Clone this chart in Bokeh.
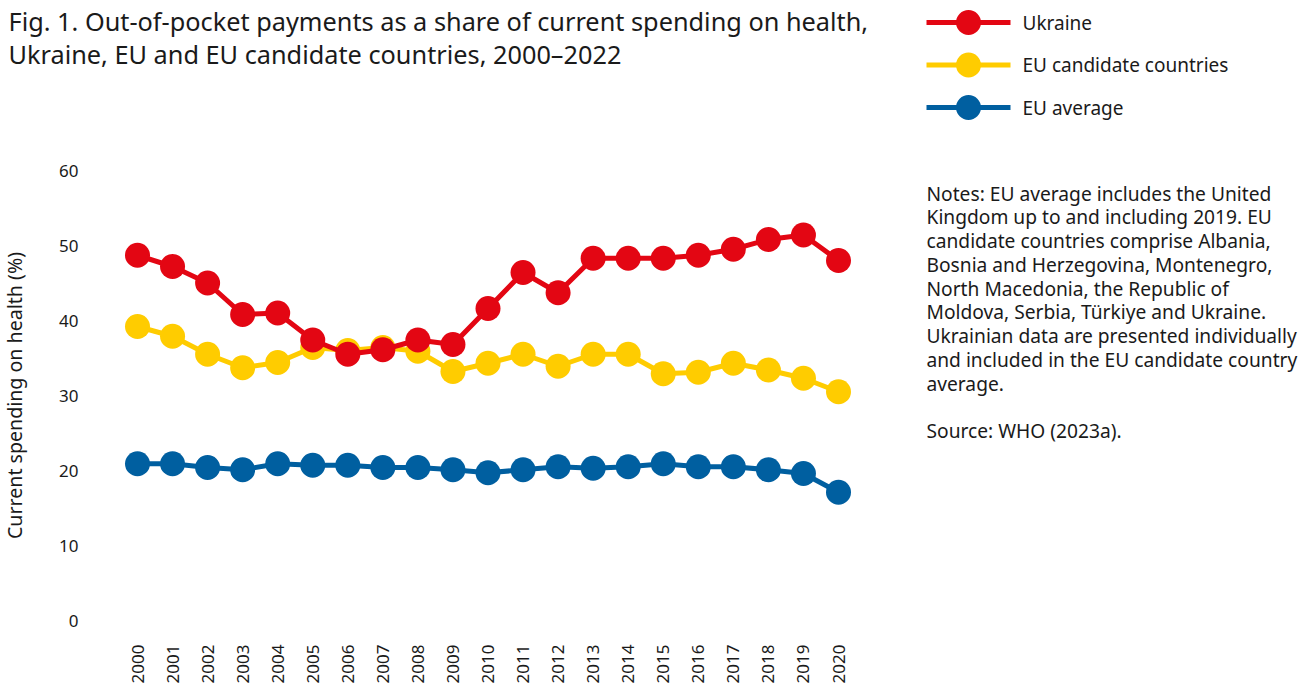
import math
from bokeh.plotting import figure
from bokeh.models import ColumnDataSource, FixedTicker, Range1d
from bokeh.core.properties import value
from bokeh.embed import file_html
from bokeh.resources import INLINE

years = list(range(2000, 2021))
ukraine = [48.7, 47.2, 45.0, 40.8, 41.0, 37.4, 35.5, 36.1, 37.4, 36.8, 41.6,
           46.4, 43.7, 48.3, 48.3, 48.3, 48.7, 49.5, 50.8, 51.4, 48.0]
candidates = [39.2, 37.9, 35.5, 33.7, 34.4, 36.4, 36.0, 36.4, 35.9, 33.2, 34.3,
              35.5, 33.9, 35.5, 35.5, 32.9, 33.1, 34.3, 33.4, 32.3, 30.5]
eu_avg = [20.9, 20.9, 20.4, 20.1, 20.9, 20.7, 20.7, 20.4, 20.4, 20.1, 19.7,
          20.1, 20.5, 20.3, 20.5, 20.9, 20.5, 20.5, 20.1, 19.6, 17.1]
y_ticks = [0, 10, 20, 30, 40, 50, 60]

series_names = ["Ukraine", "EU candidate countries", "EU average"]
title_lines = ["Fig. 1. Out-of-pocket payments as a share of current spending on health,",
               "Ukraine, EU and EU candidate countries, 2000\u20132022"]
y_label = "Current spending on health (%)"
notes_lines = ["Notes: EU average includes the United",
               "Kingdom up to and including 2019. EU",
               "candidate countries comprise Albania,",
               "Bosnia and Herzegovina, Montenegro,",
               "North Macedonia, the Republic of",
               "Moldova, Serbia, T\u00fcrkiye and Ukraine.",
               "Ukrainian data are presented individually",
               "and included in the EU candidate country",
               "average.",
               "",
               "Source: WHO (2023a)."]

RED = "#E30613"
YELLOW = "#FFCC00"
BLUE = "#005FA0"
COLORS = [RED, YELLOW, BLUE]
TXT = "#1a1a1a"
FONT = "Noto Sans"

W, H = 1312, 688
X_PX = 35.05               # pixels per year
Y_PX = 7.5                 # pixels per percentage point
X0_PX, Y0_PX = 137, 620    # canvas position of year 2000 / value 0
AXIS_LEFT_PX, AXIS_BOTTOM_PX = 116, 626

x_start = 2000 - X0_PX / X_PX
y_end = Y0_PX / Y_PX

src = ColumnDataSource(dict(year=years, ukr=ukraine, cand=candidates, eu=eu_avg))
p = figure(width=W, height=H, output_backend="svg", toolbar_location=None,
           x_range=Range1d(x_start, x_start + W / X_PX),
           y_range=Range1d(y_end - H / Y_PX, y_end),
           min_border=0, min_border_left=0, min_border_right=0,
           min_border_top=0, min_border_bottom=0)
p.outline_line_color = None
p.xgrid.visible = False
p.ygrid.visible = False
p.extra_x_ranges = {"px": Range1d(0, W)}
p.extra_y_ranges = {"px": Range1d(H, 0)}

for ax in (p.xaxis[0], p.yaxis[0]):
    ax.axis_line_color = None
    ax.major_tick_line_color = None
    ax.minor_tick_line_color = None
    ax.major_tick_out = 0
    ax.major_tick_in = 0
    ax.minor_tick_out = 0
    ax.major_label_text_font = FONT
    ax.major_label_text_font_size = "17px"
    ax.major_label_text_color = TXT

p.xaxis.ticker = FixedTicker(ticks=years)
p.xaxis.bounds = (years[0], years[-1])
p.xaxis.fixed_location = (Y0_PX - AXIS_BOTTOM_PX) / Y_PX
p.xaxis.major_label_orientation = math.pi / 2
p.xaxis.major_label_standoff = 18

p.yaxis.ticker = FixedTicker(ticks=y_ticks)
p.yaxis.bounds = (y_ticks[0], y_ticks[-1])
p.yaxis.fixed_location = x_start + AXIS_LEFT_PX / X_PX
p.yaxis.major_label_standoff = 38
p.yaxis.axis_label = y_label
p.yaxis.axis_label_text_font = FONT
p.yaxis.axis_label_text_font_size = "19.6px"
p.yaxis.axis_label_text_font_style = "normal"
p.yaxis.axis_label_text_color = TXT
p.yaxis.axis_label_standoff = 28

for key, col in (("eu", BLUE), ("cand", YELLOW), ("ukr", RED)):
    p.line("year", key, source=src, line_color=col, line_width=5)
    p.scatter("year", key, source=src, size=25, fill_color=col, line_color=col, line_width=0)

# legend (pixel range)
row_y = [22 + i * 42.5 for i in range(len(series_names))]
kx0, kx1 = 926, 1010
p.segment(x0=[kx0] * 3, x1=[kx1] * 3, y0=row_y, y1=row_y, line_color=COLORS, line_width=5,
          x_range_name="px", y_range_name="px")
p.scatter(x=[(kx0 + kx1) / 2] * 3, y=row_y, size=25, fill_color=COLORS, line_color=COLORS,
          line_width=0, x_range_name="px", y_range_name="px")
p.text(x=[kx1 + 12] * 3, y=row_y, text=series_names, text_font=value(FONT),
       text_font_size="19px", text_color=TXT, text_baseline="middle",
       x_range_name="px", y_range_name="px")

# notes
note_y = [192.5 + i * 23.75 for i in range(len(notes_lines))]
p.text(x=[926] * len(notes_lines), y=note_y, text=notes_lines, text_font=value(FONT),
       text_font_size="19.2px", text_color=TXT, text_baseline="middle",
       x_range_name="px", y_range_name="px")

# title
p.text(x=[8] * len(title_lines), y=[20.5 + i * 32.5 for i in range(len(title_lines))],
       text=title_lines, text_font=value(FONT), text_font_size="25.3px", text_color=TXT,
       text_baseline="middle", x_range_name="px", y_range_name="px")

open("out.html", "w").write(file_html(p, INLINE))
